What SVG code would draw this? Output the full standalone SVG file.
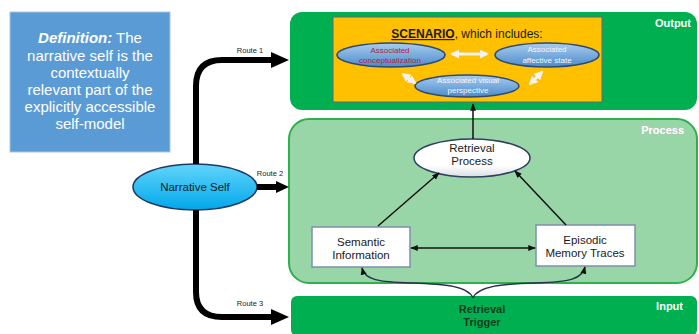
<svg xmlns="http://www.w3.org/2000/svg" width="699" height="334" viewBox="0 0 699 334">
<defs>
<style>
.t{font-family:"Liberation Sans",Arial,sans-serif;}
.def{font-family:"Liberation Sans",Arial,sans-serif;font-size:15px;fill:#ffffff;text-anchor:middle;}
.lbl{font-family:"Liberation Sans",Arial,sans-serif;font-size:11px;font-weight:bold;fill:#ffffff;text-anchor:end;}
.route{font-family:"Liberation Sans",Arial,sans-serif;font-size:7.5px;fill:#222;text-anchor:middle;}
.sc{font-family:"Liberation Sans",Arial,sans-serif;font-size:8px;fill:#f4f6fa;text-anchor:middle;}
.node{font-family:"Liberation Sans",Arial,sans-serif;font-size:11.5px;fill:#1a1a1a;text-anchor:middle;}
.thick{fill:none;stroke:#000;stroke-width:6;}
.conn{fill:none;stroke:#111;stroke-width:1.5;}
.wa{fill:none;stroke:#f2f2f2;stroke-width:3;}
</style>
<linearGradient id="gBlue" x1="0" y1="0" x2="0" y2="1">
<stop offset="0" stop-color="#a9cdee"/>
<stop offset="1" stop-color="#4b8bcc"/>
</linearGradient>
<linearGradient id="gCyan" x1="0" y1="0" x2="0" y2="1">
<stop offset="0" stop-color="#62d4fa"/>
<stop offset="1" stop-color="#00a8ea"/>
</linearGradient>
<linearGradient id="gWhite" x1="0" y1="0" x2="0" y2="1">
<stop offset="0" stop-color="#ffffff"/>
<stop offset="0.7" stop-color="#ffffff"/>
<stop offset="1" stop-color="#d9dde4"/>
</linearGradient>
<marker id="ah" viewBox="0 0 10 10" refX="9" refY="5" markerWidth="5" markerHeight="5" orient="auto-start-reverse">
<path d="M0,1 L10,5 L0,9 z" fill="#111"/>
</marker>
<marker id="wh" viewBox="0 0 10 10" refX="8" refY="5" markerWidth="3" markerHeight="3" orient="auto-start-reverse">
<path d="M0,0 L10,5 L0,10 z" fill="#f2f2f2"/>
</marker>
</defs>
<rect width="699" height="334" fill="#ffffff"/>

<g id="definition">
<rect x="10" y="12" width="160" height="140" fill="#5b9bd5" stroke="#a9c5e6" stroke-width="1"/>
<text class="def" x="90" y="43"><tspan font-weight="bold" font-style="italic">Definition:</tspan> The</text>
<text class="def" x="90" y="60.5">narrative self is the</text>
<text class="def" x="90" y="77.5">contextually</text>
<text class="def" x="90" y="95">relevant part of the</text>
<text class="def" x="90" y="112">explicitly accessible</text>
<text class="def" x="90" y="129">self-model</text>
</g>

<g id="output">
<rect x="290" y="12" width="407" height="98" rx="12" fill="#00b050"/>
<text class="lbl" x="691" y="27">Output</text>
</g>

<g id="process">
<rect x="289" y="119" width="408" height="164" rx="20" fill="#98d6a8" stroke="#2eb04f" stroke-width="2"/>
<text class="lbl" x="684" y="134" style="paint-order:stroke" stroke="#b9c8bc" stroke-width="1">Process</text>
</g>

<g id="input">
<rect x="291" y="296" width="406" height="40" rx="6" fill="#00b050"/>
<text class="lbl" x="683" y="310">Input</text>
<text class="t" x="482" y="313" font-size="11" font-weight="bold" fill="#0f3a1e" text-anchor="middle">Retrieval</text>
<text class="t" x="482" y="326" font-size="11" font-weight="bold" fill="#0f3a1e" text-anchor="middle">Trigger</text>
</g>

<g id="scenario">
<rect x="333" y="17" width="269" height="85" fill="#ffc000" stroke="#5f6a78" stroke-width="1"/>
<text class="t" x="467" y="38" font-size="12" fill="#1a1a1a" text-anchor="middle"><tspan font-weight="bold" text-decoration="underline">SCENARIO</tspan>, which includes:</text>
</g>

<g id="conceptualization">
<ellipse cx="391" cy="55" rx="54" ry="12" fill="url(#gBlue)" stroke="#2e4a72" stroke-width="1.5"/>
<text class="sc" x="390" y="53" style="fill:#b3203e">Associated</text>
<text class="sc" x="390" y="63" style="fill:#b3203e">conceptualization</text>
</g>
<g id="affective">
<ellipse cx="547" cy="55" rx="52" ry="12" fill="url(#gBlue)" stroke="#2e4a72" stroke-width="1.5"/>
<text class="sc" x="547" y="52">Associated</text>
<text class="sc" x="547" y="63">affective state</text>
</g>
<g id="visual">
<ellipse cx="467" cy="86" rx="52" ry="11" fill="url(#gBlue)" stroke="#2e4a72" stroke-width="1.5"/>
<text class="sc" x="468" y="83">Associated visual</text>
<text class="sc" x="468" y="93">perspective</text>
</g>

<g id="narrative-self">
<ellipse cx="195" cy="187" rx="62" ry="23" fill="url(#gCyan)" stroke="#1f3864" stroke-width="1.5"/>
<text class="node" x="195" y="191">Narrative Self</text>
</g>

<g id="retrieval-process">
<ellipse cx="472" cy="158" rx="58" ry="19" fill="url(#gWhite)" stroke="#2f3f5f" stroke-width="1.5"/>
<text class="node" x="472" y="152">Retrieval</text>
<text class="node" x="472" y="165">Process</text>
</g>

<g id="semantic">
<rect x="312" y="227" width="98" height="40" fill="#ffffff" stroke="#7f8fa9" stroke-width="1.5"/>
<text class="node" x="361" y="246">Semantic</text>
<text class="node" x="361" y="259">Information</text>
</g>

<g id="episodic">
<rect x="536" y="225" width="99" height="41" fill="#ffffff" stroke="#7f8fa9" stroke-width="1.5"/>
<text class="node" x="585" y="244">Episodic</text>
<text class="node" x="585" y="257">Memory Traces</text>
</g>

<g id="connectors">
<path class="thick" d="M196,164 L196,86 Q196,60 222,60 L273,60"/>
<polygon points="271,52 289,60 271,68" fill="#000"/>
<text class="route" x="250" y="53">Route 1</text>
<path class="thick" d="M257,187 L278,187"/>
<polygon points="276,181 289,187 276,193" fill="#000"/>
<text class="route" x="270" y="176">Route 2</text>
<path class="thick" d="M196,210 L196,292 Q196,317 222,317 L273,317"/>
<polygon points="271,309 289,317 271,325" fill="#000"/>
<text class="route" x="250" y="306">Route 3</text>

<line class="wa" x1="452" y1="54" x2="487" y2="54" marker-start="url(#wh)" marker-end="url(#wh)"/>
<line class="wa" x1="403" y1="74" x2="415" y2="83" marker-start="url(#wh)" marker-end="url(#wh)"/>
<line class="wa" x1="530" y1="84" x2="542" y2="72" marker-start="url(#wh)" marker-end="url(#wh)"/>

<line class="conn" x1="473" y1="139" x2="473" y2="104" marker-end="url(#ah)"/>
<line class="conn" x1="378" y1="226" x2="439" y2="173" marker-end="url(#ah)"/>
<line class="conn" x1="566" y1="225" x2="515" y2="171" marker-end="url(#ah)"/>
<line class="conn" x1="411" y1="248" x2="535" y2="248" marker-start="url(#ah)" marker-end="url(#ah)"/>
<path d="M473,298 C468,286 445,284 412,283 C378,282 365,280 362,268" fill="none" stroke="#26324a" stroke-width="1.5" marker-end="url(#ah)"/>
<path d="M473,298 C478,286 502,284 535,283 C570,282 582,279 585,267" fill="none" stroke="#26324a" stroke-width="1.5" marker-end="url(#ah)"/>
</g>
</svg>
